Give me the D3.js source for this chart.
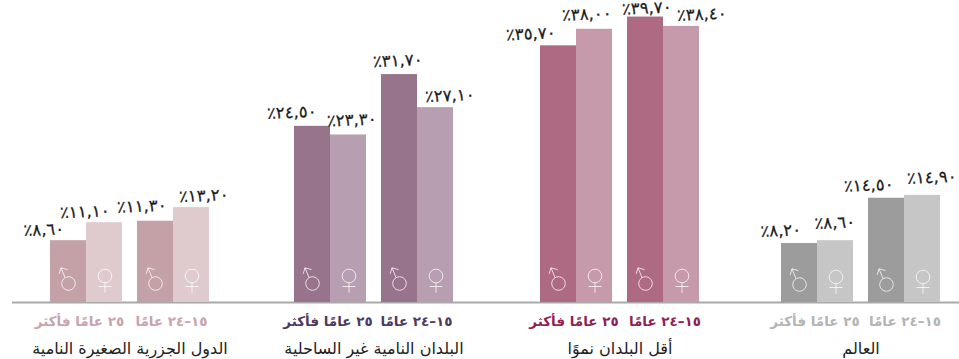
<!DOCTYPE html>
<html><head><meta charset="utf-8">
<script src="https://cdn.jsdelivr.net/npm/d3@7"></script>
<style>html,body{margin:0;background:#fff}svg{display:block}</style></head>
<body><svg id="chart" width="959" height="359"></svg>
<script>
// Percentages by country group: male and female bars for two age bands.
const groups = ["الدول الجزرية الصغيرة النامية", "البلدان النامية غير الساحلية", "أقل البلدان نموًا", "العالم"];
const values = [
  [8.6, 11.1, 11.3, 13.2],
  [24.5, 23.3, 31.7, 27.1],
  [35.7, 38.0, 39.7, 38.4],
  [8.2, 8.6, 14.5, 14.9]
];
const maleColors = ["#c4a1a7", "#98748c", "#ae6a83", "#9c9c9c"];
const femaleColors = ["#dfcbce", "#b79fb1", "#c69aaa", "#c6c6c6"];
const headColors = ["#c9a3ad", "#4b3a63", "#8f1f55", "#b4b4b4"];

// Layout: left edge of each cluster, bar offsets inside it, and hand-placed value labels.
const groupStarts = [50, 294, 540, 781];
const barOffsets = [0, 36, 87, 123];
const barW = 36;
const labelDx = [[-24, -19, -13, 13], [-20, 4, -1, 15], [-27, -7, 2, 21], [-18, 0, -17, 10]];
const labelDy = [[-5, -5, -9, -6], [-8, -9, -8, -6], [-6, -9, -3, -6], [-7, -12, -7, -12]];
const symbolDy = [0, 0, 0, 1];
const olderHeadX = [29.5, 34, 34, 34];
const youngHeadX = [121.5, 122.5, 125, 124];

const toArabic = s => s.replace(/\d/g, d => "٠١٢٣٤٥٦٧٨٩"[+d]);
const fmt = v => "٪" + toArabic(v.toFixed(2).replace(".", ","));

const svg = d3.select("#chart");
const y = d3.scaleLinear().domain([0, 42]).range([302, 302 - 42 * 7.19]);
const font = "'DejaVu Sans', sans-serif";

svg.append("line").attr("x1", 12).attr("x2", 959).attr("y1", 302.5).attr("y2", 302.5)
  .attr("stroke", "#a9a9a9").attr("stroke-width", 1.8);

groups.forEach((name, g) => {
  const x0 = groupStarts[g];
  const gr = svg.append("g");
  values[g].forEach((v, i) => {
    const isMale = i % 2 === 0;
    const x = x0 + barOffsets[i];
    gr.append("rect").attr("x", x).attr("y", y(v)).attr("width", barW).attr("height", y(0) - y(v))
      .attr("fill", isMale ? maleColors[g] : femaleColors[g]);

    const cx = x + barW / 2;
    const sym = gr.append("g").attr("transform", `translate(${cx},${symbolDy[g]})`)
      .attr("fill", "none").attr("stroke", "#fff").attr("stroke-opacity", .75).attr("stroke-width", 1);
    if (isMale) {
      sym.append("circle").attr("cx", .5).attr("cy", 283.5).attr("r", 6.8);
      sym.append("path").attr("d", "M-3 277.5L-7 267.8M-7 267.8l-1.8 6M-7 267.8l6.5 1.8");
    } else {
      sym.append("circle").attr("cx", 1).attr("cy", 276).attr("r", 6.8);
      sym.append("path").attr("d", "M1 282.8V292.8M-5.5 286.5H7.5");
    }

    gr.append("text")
      .attr("transform", `translate(${cx + labelDx[g][i]},${y(v) + labelDy[g][i]}) rotate(-2.5)`)
      .attr("text-anchor", "middle").attr("font-family", font).attr("font-size", 16.5)
      .attr("letter-spacing", 2.8).attr("fill", "#1c1c1c").attr("stroke", "#1c1c1c").attr("stroke-width", .25)
      .attr("direction", "ltr").text(fmt(v));
  });
  const header = (text, cx) => gr.append("text").attr("x", cx).attr("y", 326).attr("text-anchor", "middle")
    .attr("font-family", font).attr("font-weight", "bold").attr("font-size", 13.5)
    .attr("fill", headColors[g]).text(text);
  header("١٥–٢٤ عامًا", x0 + youngHeadX[g]);
  header("٢٥ عامًا فأكثر", x0 + olderHeadX[g]);
  gr.append("text").attr("x", x0 + 80).attr("y", 354).attr("text-anchor", "middle").attr("font-family", font)
    .attr("font-size", 16).attr("fill", "#222").text(name);
});
</script></body></html>
